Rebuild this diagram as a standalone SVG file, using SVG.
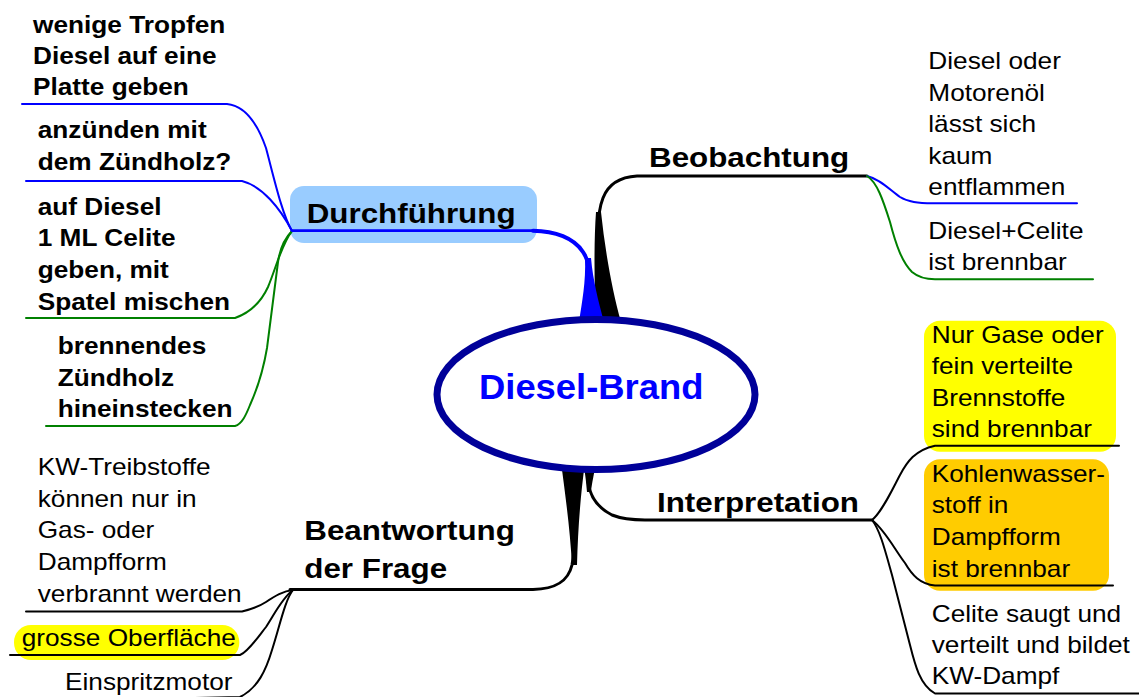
<svg xmlns="http://www.w3.org/2000/svg" width="1139" height="697" viewBox="0 0 1139 697">
<style>
text{font-family:"Liberation Sans",Arial,sans-serif;fill:#000}
.b{font-weight:bold;font-size:23px}
.r{font-size:23px}
.h{font-weight:bold;font-size:27.5px}
.c{fill:none;stroke-linecap:round;stroke-linejoin:round}
.bl{stroke:#0000FF;stroke-width:2}
.gr{stroke:#008000;stroke-width:2}
.bk{stroke:#000;stroke-width:2}
.bkw{stroke:#000;stroke-width:3}
</style>
<rect width="1139" height="697" fill="#fff"/>

<g id="durchfuehrung">
<rect x="290" y="186" width="247" height="57" rx="14" fill="#99CCFF"/>
<text class="h" transform="translate(306.7 0) scale(1.14 1)"><tspan x="0" y="222.7">Durchführung</tspan></text>
</g>
<g id="tropfen">
<text class="b" transform="translate(33 0) scale(1.14 1)"><tspan x="0" y="32.7">wenige Tropfen</tspan><tspan x="0" y="63.7">Diesel auf eine</tspan><tspan x="0" y="95">Platte geben</tspan></text>
</g>
<g id="anzuenden">
<text class="b" transform="translate(37.7 0) scale(1.14 1)"><tspan x="0" y="138.3">anzünden mit</tspan><tspan x="0" y="170">dem Zündholz?</tspan></text>
</g>
<g id="celite">
<text class="b" transform="translate(37.7 0) scale(1.14 1)"><tspan x="0" y="215">auf Diesel</tspan><tspan x="0" y="246.5">1 ML Celite</tspan><tspan x="0" y="278.3">geben, mit</tspan><tspan x="0" y="310">Spatel mischen</tspan></text>
</g>
<g id="brennendes">
<text class="b" transform="translate(57.7 0) scale(1.14 1)"><tspan x="0" y="354">brennendes</tspan><tspan x="0" y="385.7">Zündholz</tspan><tspan x="0" y="417">hineinstecken</tspan></text>
</g>

<g id="beobachtung">
<text class="h" transform="translate(649 0) scale(1.14 1)"><tspan x="0" y="167">Beobachtung</tspan></text>
</g>
<g id="motorenoel">
<text class="r" transform="translate(928.3 0) scale(1.14 1)"><tspan x="0" y="69.3">Diesel oder</tspan><tspan x="0" y="100.8">Motorenöl</tspan><tspan x="0" y="132.3">lässt sich</tspan><tspan x="0" y="163.8">kaum</tspan><tspan x="0" y="195.5">entflammen</tspan></text>
</g>
<g id="dieselcelite">
<text class="r" transform="translate(928.3 0) scale(1.14 1)"><tspan x="0" y="239.3">Diesel+Celite</tspan><tspan x="0" y="270.5">ist brennbar</tspan></text>
</g>

<g id="interpretation">
<text class="h" transform="translate(657 0) scale(1.14 1)"><tspan x="0" y="511.7">Interpretation</tspan></text>
</g>
<g id="nurgase">
<rect x="924" y="320.7" width="192" height="131" rx="16" fill="#FFFF00"/>
<text class="r" transform="translate(931.7 0) scale(1.14 1)"><tspan x="0" y="342.7">Nur Gase oder</tspan><tspan x="0" y="374.2">fein verteilte</tspan><tspan x="0" y="405.8">Brennstoffe</tspan><tspan x="0" y="437.3">sind brennbar</tspan></text>
</g>
<g id="kohlenwasserstoff">
<rect x="924" y="459.3" width="185" height="131.4" rx="16" fill="#FFCC00"/>
<text class="r" transform="translate(931.7 0) scale(1.14 1)"><tspan x="0" y="481.7">Kohlenwasser-</tspan><tspan x="0" y="513.3">stoff in</tspan><tspan x="0" y="545">Dampfform</tspan><tspan x="0" y="576.7">ist brennbar</tspan></text>
</g>
<g id="celitesaugt">
<text class="r" transform="translate(931.7 0) scale(1.14 1)"><tspan x="0" y="621.7">Celite saugt und</tspan><tspan x="0" y="653.3">verteilt und bildet</tspan><tspan x="0" y="684.5">KW-Dampf</tspan></text>
</g>

<g id="beantwortung">
<text class="h" transform="translate(304.3 0) scale(1.14 1)"><tspan x="0" y="540">Beantwortung</tspan><tspan x="0" y="578.3">der Frage</tspan></text>
</g>
<g id="kwtreibstoffe">
<text class="r" transform="translate(37.7 0) scale(1.14 1)"><tspan x="0" y="475">KW-Treibstoffe</tspan><tspan x="0" y="506.7">können nur in</tspan><tspan x="0" y="538.5">Gas- oder</tspan><tspan x="0" y="570.3">Dampfform</tspan><tspan x="0" y="602">verbrannt werden</tspan></text>
</g>
<g id="oberflaeche">
<rect x="14" y="625" width="225.3" height="35" rx="17" fill="#FFFF00"/>
<text class="r" transform="translate(21.7 0) scale(1.14 1)"><tspan x="0" y="645.7">grosse Oberfläche</tspan></text>
</g>
<g id="einspritzmotor">
<text class="r" transform="translate(65 0) scale(1.14 1)"><tspan x="0" y="690">Einspritzmotor</tspan></text>
</g>

<g id="connectors">
<!-- Durchfuehrung sub-branches -->
<path class="c bl" d="M22,104 L227,104 C248,106 259,128 266,148 C274,178 282,214 292,231"/>
<path class="c bl" d="M26,181 L242,181 C262,186 280,208 292,231"/>
<path class="c gr" d="M26,318 L235,318 C252,312 262,300 268,287 C276,268 282,243 292,231"/>
<path class="c gr" d="M46,426 L235,426 C242,424 246,415 250,405 C259,385 264,366 267,348 L278,262 C280,248 285,238 292,231"/>
<!-- Beobachtung main (black taper) -->
<path d="M596,212 C594,240 594,280 596,322 L621,322 C612,290 605,250 601,212 Z" fill="#000"/>
<path class="c bkw" d="M867,176 L637,176 C620,177 608,185 603,198 C599,208 598,218 598,232"/>
<!-- Durchfuehrung main (blue taper) -->
<path d="M585,258 C586,282 582,302 579,322 L604,322 C598,300 593,280 591,258 Z" fill="#0000FF"/>
<path class="c" stroke="#0000FF" stroke-width="2.7" d="M292,230.7 L533,230.7"/>
<path class="c" stroke="#0000FF" stroke-width="4" d="M533,230.7 C555,231 574,238 583,252 C587,258 588,262 588,266"/>
<!-- Beobachtung sub-branches -->
<path class="c bl" d="M867,176 C880,179 890,190 900,197 C908,202 918,203 933,203.3 L1077,203.3"/>
<path class="c gr" d="M867,176 C877,182 883,200 890,222 C896,245 902,262 912,272 C918,277 925,279.3 935,279.3 L1093,279.3"/>
<!-- Beantwortung main (black taper) -->
<path d="M561,462 C566,500 570,530 572,565 L577,565 C578,530 580,500 585,462 Z" fill="#000"/>
<path class="c bkw" d="M290,589.5 L533,589.5 C555,589 568,582 572,565 C575,548 575,530 576,505"/>
<!-- Interpretation main -->
<path d="M583,462 L596,462 C594,475 592,482 591,492 L587,492 C586,480 585,472 583,462 Z" fill="#000"/>
<path class="c bkw" d="M588,482 C590,497 598,508 612,515 C622,519 632,520 645,520 L872,520"/>
<!-- Interpretation sub-branches -->
<path class="c bk" d="M872,520 C882,512 892,490 900,475 C907,462 915,450 935,445.7 L1119,445.7"/>
<path class="c bk" d="M872,520 C885,530 895,550 905,563 C912,575 920,584 935,585.5 L1113,585.5"/>
<path class="c bk" d="M872,520 C880,530 885,550 892,575 L910,645 C915,665 920,685 935,693.5 L1139,693.5"/>
<!-- Beantwortung sub-branches -->
<path class="c bk" d="M26,611.5 L242,611.5 C252,609 260,606 266,602 C275,596 283,591 293,590"/>
<path class="c bk" d="M10,655 L240,655 C248,652 258,637 266,627 C274,615 282,598 293,590"/>
<path class="c bk" d="M293,590 C285,600 280,625 272,650 C266,670 258,688 240,697 L60,701"/>
</g>

<g id="diesel-brand">
<ellipse cx="596" cy="394.5" rx="159" ry="75" fill="#fff" stroke="#000099" stroke-width="7"/>
<text transform="translate(479 0) scale(1.04 1)" style="font-weight:bold;font-size:35px;fill:#0000FF"><tspan x="0" y="399.3">Diesel-Brand</tspan></text>
</g>
</svg>
